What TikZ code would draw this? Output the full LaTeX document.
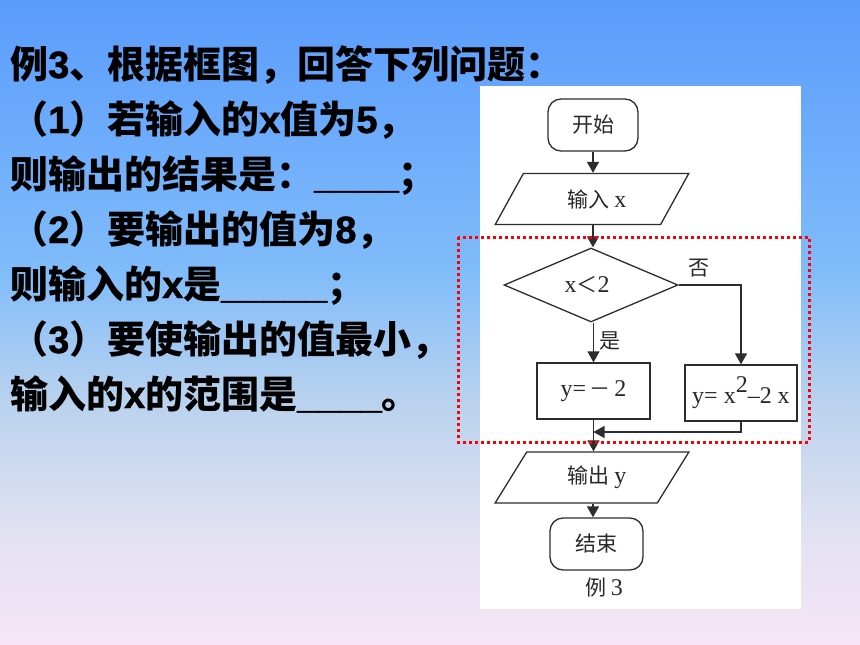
\documentclass[tikz,border=0pt]{standalone}
\usepackage{fontspec}
\setmainfont{Liberation Sans}
\newfontfamily\cjk{Noto Sans CJK SC}
\newfontfamily\latb{Liberation Sans}[UprightFont={* Bold}, FakeBold=1.2]
\newfontfamily\fserif{Liberation Serif}
\usetikzlibrary{shapes.geometric,arrows.meta}
\newcommand\lt[1]{{\latb #1}}
\newcommand\fl[1]{{\fserif\fontsize{24}{24}\selectfont #1}}
\definecolor{bgA}{RGB}{90,156,252}
\definecolor{bgB}{RGB}{128,188,250}
\definecolor{bgC}{RGB}{185,210,238}
\definecolor{bgD}{RGB}{225,225,242}
\definecolor{bgE}{RGB}{246,230,246}
\definecolor{lc}{RGB}{45,45,45}
\definecolor{tc}{RGB}{40,40,40}
\begin{document}
\begin{tikzpicture}[x=1pt,y=-1pt,
  lefttxt/.style={anchor=base west, inner sep=0pt, text=black,
    font=\cjk\bfseries\fontsize{38}{38}\selectfont},
  ftxt/.style={inner sep=0pt, text=tc, font=\cjk\fontsize{21}{21}\selectfont},
  fshape/.style={draw=lc, line width=1.3pt, text=tc, font=\cjk\fontsize{21}{21}\selectfont},
  se/.style={fshape, rectangle, rounded corners=13pt, minimum height=52pt},
  io/.style={fshape, trapezium, trapezium left angle=54, trapezium right angle=126,
    trapezium stretches=true, minimum width=194pt, minimum height=51pt, inner sep=0pt},
  dec/.style={fshape, diamond, aspect=2.35, minimum width=174pt, minimum height=74pt, inner sep=0pt},
  procbox/.style={fshape, rectangle, minimum height=56pt, inner sep=0pt},
  arr/.style={draw=lc, line width=1.3pt, -{Triangle[length=11pt,width=12pt]}}
]
\useasboundingbox (0,0) rectangle (860,645);
% background gradient
\shade[top color=bgA, bottom color=bgB] (0,0) rectangle (860,271);
\shade[top color=bgB, bottom color=bgC] (0,270) rectangle (860,401);
\shade[top color=bgC, bottom color=bgD] (0,400) rectangle (860,531);
\shade[top color=bgD, bottom color=bgE] (0,530) rectangle (860,645);
% white panel
\fill[white] (480,86) rectangle (801,609);

% left text
\node[lefttxt] (t1) at (10,78) {例\lt{3}、根据框图，回答下列问题：};
\node[lefttxt] (t2) at (10,133) {（\lt{1}）若输入的\lt{x}值为\lt{5}，};
\node[lefttxt] (t3) at (10,188) {则输出的结果是：\lt{\_\_\_\_}；};
\node[lefttxt] (t4) at (10,243) {（\lt{2}）要输出的值为\lt{8}，};
\node[lefttxt] (t5) at (10,298) {则输入的\lt{x}是\lt{\_\_\_\_\_}；};
\node[lefttxt] (t6) at (10,353) {（\lt{3}）要使输出的值最小，};
\node[lefttxt] (t7) at (10,408) {输入的\lt{x}的范围是\lt{\_\_\_\_}。};

% flowchart
\node[se, minimum width=90pt] (s) at (593,125) {开始};
\node[io] (in) at (592,199) {\hspace*{10pt}输入\ \fl{x}};
\node[dec] (d) at (591,285) {\fl{x}＜\fl{2}\hspace*{8pt}};
\node[procbox, minimum width=113pt] (b1) at (593.5,391) {\fl{y=}\,－\,\fl{2}};
\node[procbox, minimum width=112pt] (b2) at (741,393) {\fl{y= x\raisebox{0.45em}{2}–2 x}};
\coordinate (m) at (593.5,432);
\node[io] (out) at (592,477.5) {\hspace*{10pt}输出\ \fl{y}};
\node[se, minimum width=93pt] (e) at (596.5,544) {结束};
\node[ftxt] (cap) at (604,588) {例 \fl{3}};
\node[ftxt] (no) at (699,268) {否};
\node[ftxt] (yes) at (610,341) {是};

\draw[arr] (s.south) -- (s.south |- in.north);
\draw[arr] (s.south |- in.south) -- (s.south |- d.north);
\draw[arr] (b1.north |- d.south) -- (b1.north);
\draw[arr] (d.east) -| (b2.north);
\draw[arr] (b2.south) |- (m);
\draw[arr] (b1.south) -- (b1.south |- out.north);
\draw[arr] (s.south |- out.south) -- (s.south |- e.north);

% red dotted frame
\draw[red, line width=3pt, dash pattern=on 3pt off 3pt] (458,237) rectangle (809,442);
\end{tikzpicture}
\end{document}
